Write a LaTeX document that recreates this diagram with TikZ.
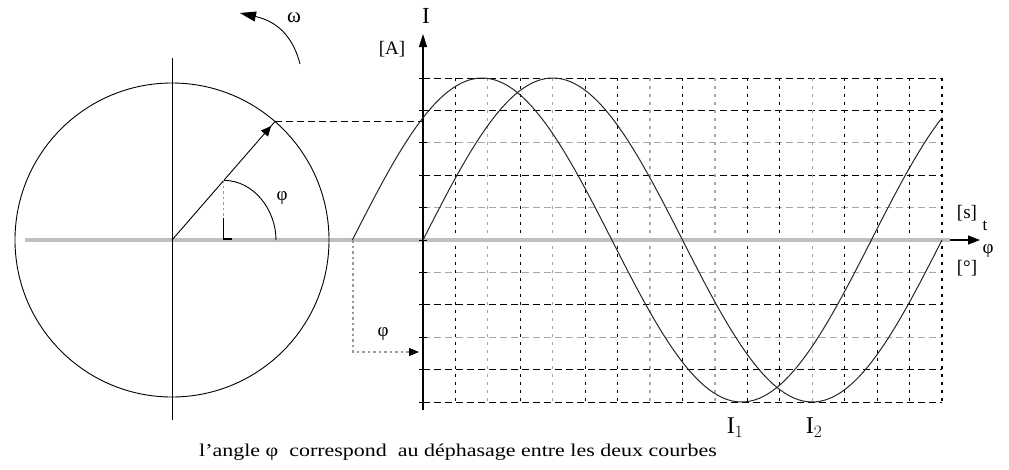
\documentclass[tikz,border=0pt]{standalone}
\usepackage{fontspec}
\setmainfont{Liberation Serif}
\usetikzlibrary{arrows.meta,calc}
\begin{document}
\begin{tikzpicture}[x=1pt,y=-1pt,
  thin line/.style={line width=0.9pt},
  hgrid/.style={dash pattern=on 7pt off 4pt, line width=1pt},
  vgrid/.style={dash pattern=on 3pt off 5pt, line width=1.2pt},
  lightgrid/.style={draw=black!35},
  curve/.style={line width=1pt, black!85},
  lbl/.style={inner sep=0pt, font=\fontsize{19}{21}\selectfont},
  dotgray/.style={draw=black!40, dash pattern=on 2.5pt off 3pt, line width=1.6pt},
  tip/.style={-{Triangle[length=12pt,width=9pt]}}
]
\useasboundingbox (0,0) rectangle (1009,469);
% grid
\foreach \k in {0,1,3,7,9,10} {
  \draw[hgrid] (423,{78+32.4*\k}) -- (942,{78+32.4*\k});
}
\foreach \k in {2,4,6,8} {
  \draw[hgrid,lightgrid] (423,{78+32.4*\k}) -- (942,{78+32.4*\k});
}
\foreach \k in {1,3,5,6,8,10,11,13,14,15,16} {
  \draw[vgrid] ({423+32.44*\k},78) -- ({423+32.44*\k},402);
}
\foreach \k in {2,4,7,9,12} {
  \draw[vgrid,lightgrid] ({423+32.44*\k},78) -- ({423+32.44*\k},402);
}
% horizontal axis
\coordinate (hl) at (25,240);
\coordinate (hr) at (950,240);
\coordinate (htip) at (980,240);
\draw[line width=4pt, black!25] (hl) -- (hr);
\draw[line width=1.6pt, tip] (hr) -- (htip);
% circle
\coordinate (C) at (172,240);
\draw[thin line] (C) circle[radius=157pt];
\coordinate (vt) at (172,58);
\coordinate (vb) at (172,420);
\draw[thin line] (vt) -- (vb);
% radius vector
\coordinate (P) at ($(C)+(49:157pt)$);
\coordinate (Pa) at ($(C)+(49:151pt)$);
\draw[thin line] (C) -- (P);
\draw[-{Triangle[length=10pt,width=9pt]}, thin line] ($(C)+(49:140pt)$) -- (Pa);
% y axis
\coordinate (yb) at (423,410);
\coordinate (yt) at (423,34);
\draw[line width=1.2pt, -{Triangle[length=13pt,width=8pt]}] (yb) -- (yt);
\foreach \k in {0,...,10} { \draw[thin line] (419,{78+32.4*\k}) -- (427,{78+32.4*\k}); }
% dashed projection
\coordinate (Q) at (P -| yb);
\draw[hgrid] (P) -- (Q);
% angle marker
\coordinate (A1) at ($(C)+(49:79pt)$);
\coordinate (A2) at (276,240);
\draw[thin line] (A1) .. controls ($(A1)+(30,0)$) and ($(A2)+(0,-30)$) .. (A2);
\coordinate (Lt) at (A1 |- 0,218);
\coordinate (Lb) at (A1 |- 0,239);
\coordinate (Lr) at ($(Lb)+(8,0)$);
\draw[dotgray, line width=1.3pt] (A1) -- (Lt);
\draw[line width=1.3pt] (Lt) -- (Lb) -- (Lr);
\node[lbl] (phi1) at (282,198) {φ};
% omega arrow
\coordinate (w1) at (300,64);
\coordinate (w2) at (240,13);
\draw[thin line, -{Triangle[length=16pt,width=10pt]}] (w1) .. controls (294,40) and (280,22) .. (w2);
\node[lbl, font=\fontsize{21}{22}\selectfont] (omega) at (294,18) {ω};
% curves
\draw[curve] plot[domain=0:360, samples=120] ({423+\x*1.44167},{240-162*sin(\x)});
\draw[curve] plot[domain=-49:360, samples=130] ({423+\x*1.44167},{240-162*sin(\x+49)});
% phase shift marker
\coordinate (S0) at (353,240);
\coordinate (S1) at (353,352);
\coordinate (S2) at (419,352);
\draw[dotgray] (S0) -- (S1) -- ($(S2)+(-9,0)$);
\draw[-{Triangle[length=10pt,width=8pt]}, line width=1pt] ($(S2)+(-10,0)$) -- (S2);
\node[lbl] (phi2) at (383,334) {φ};
% axis labels
\node[lbl, font=\fontsize{23}{24}\selectfont] (I) at (426,16) {I};
\node[lbl] (A) at (392,49) {[A]};
\node[lbl] (s) at (967,213) {[s]};
\node[lbl, font=\fontsize{17}{18}\selectfont] (t) at (985,226) {t};
\node[lbl] (phi3) at (988,251) {φ};
\node[lbl] (deg) at (967,268) {[°]};
\node[lbl, font=\fontsize{24}{26}\selectfont] (I1) at (735,428) {I$_1$};
\node[lbl, font=\fontsize{24}{26}\selectfont] (I2) at (814,428) {I$_2$};
% caption
\node[lbl, font=\fontsize{18}{20}\selectfont] (cap) at (458,452) {\scalebox{1.22}[1]{l'angle φ \ correspond \ au déphasage entre les deux courbes}};
\end{tikzpicture}
\end{document}
